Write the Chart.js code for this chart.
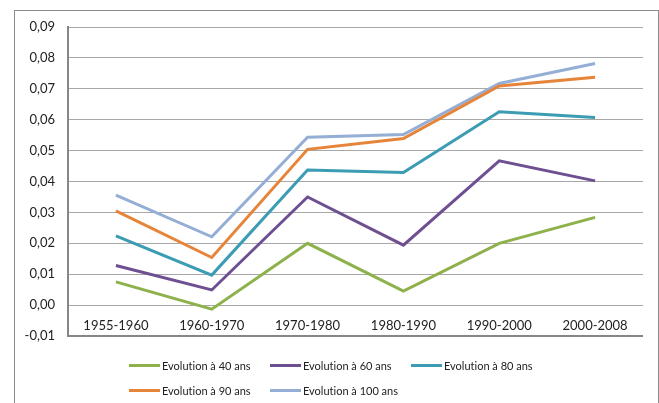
<!DOCTYPE html>
<html>
<head>
<meta charset="utf-8">
<script src="https://cdn.jsdelivr.net/npm/chart.js@4.4.1/dist/chart.umd.min.js"></script>
<style>
  html, body { margin: 0; padding: 0; background: #fff; }
  body { width: 659px; height: 403px; position: relative; overflow: hidden; font-family: Lato, "Noto Sans", sans-serif; }
  #frame { position: absolute; left: 14px; top: 10px; width: 645px; height: 420px; border: 1px solid #8c8c8c; box-sizing: border-box; }
  #wrap { position: absolute; left: 0; top: 0; width: 659px; height: 403px; }
  #legend { position: absolute; left: 129px; top: 357px; display: grid; grid-template-columns: 141px 141px 141px; row-gap: 9px; font-size: 11px; color: #222; font-variant-ligatures: none; font-feature-settings: "liga" 0; }
  .item { display: flex; align-items: center; height: 16px; white-space: nowrap; }
  .swatch { width: 31px; height: 3px; margin-right: 2px; }
</style>
</head>
<body>
<div id="frame"></div>
<div id="wrap"><canvas id="c" width="659" height="403"></canvas></div>
<div id="legend"></div>
<script>
const categories = ['1955-1960', '1960-1970', '1970-1980', '1980-1990', '1990-2000', '2000-2008'];
const seriesNames = ['Evolution à 40 ans', 'Evolution à 60 ans', 'Evolution à 80 ans', 'Evolution à 90 ans', 'Evolution à 100 ans'];
const evol40  = [0.0075, -0.0013, 0.0200, 0.0045, 0.0200, 0.0284];
const evol60  = [0.0128, 0.0049, 0.0350, 0.0194, 0.0467, 0.0402];
const evol80  = [0.0224, 0.0097, 0.0437, 0.0429, 0.0626, 0.0607];
const evol90  = [0.0305, 0.0154, 0.0504, 0.0539, 0.0709, 0.0737];
const evol100 = [0.0356, 0.0221, 0.0543, 0.0552, 0.0717, 0.0782];
const yTicks = [-0.01, 0, 0.01, 0.02, 0.03, 0.04, 0.05, 0.06, 0.07, 0.08, 0.09];
const colors = ['#8db14b', '#6e4f92', '#3b9cb3', '#e6843a', '#94aed6'];

const seriesValues = [evol40, evol60, evol80, evol90, evol100];
const datasets = seriesValues.map((vals, i) => ({
  label: seriesNames[i],
  data: vals,
  borderColor: colors[i],
  backgroundColor: colors[i],
  borderWidth: 3,
  pointRadius: 0,
  tension: 0,
  fill: false
}));

const legend = document.getElementById('legend');
seriesNames.forEach((n, i) => {
  const it = document.createElement('div');
  it.className = 'item';
  const sw = document.createElement('span');
  sw.className = 'swatch';
  sw.style.background = colors[i];
  const tx = document.createElement('span');
  tx.textContent = n;
  it.appendChild(sw); it.appendChild(tx);
  legend.appendChild(it);
});

new Chart(document.getElementById('c'), {
  type: 'line',
  data: { labels: categories, datasets: datasets },
  options: {
    responsive: false,
    animation: false,
    devicePixelRatio: 1,
    layout: { padding: { left: 0, top: 27, right: 16, bottom: 67 } },
    plugins: { legend: { display: false }, tooltip: { enabled: false } },
    scales: {
      x: {
        axis: 'x',
        type: 'category',
        position: { y: 0 },
        offset: true,
        grid: { display: false, drawTicks: false },
        border: { display: false },
        ticks: { color: '#222', font: { family: 'Lato', size: 13 }, padding: 13, maxRotation: 0 }
      },
      y: {
        min: -0.01,
        max: 0.09,
        afterBuildTicks: (scale) => { scale.ticks = yTicks.map(v => ({ value: v })); },
        afterFit: (scale) => { scale.width = 68; },
        grid: {
          drawTicks: false,
          color: (ctx) => (ctx.tick && Math.abs(ctx.tick.value + 0.01) < 1e-9) ? '#868686' : '#a8a8a8',
          lineWidth: (ctx) => (ctx.tick && Math.abs(ctx.tick.value + 0.01) < 1e-9) ? 2 : 1
        },
        border: { display: true, color: '#868686', width: 2 },
        ticks: {
          color: '#222',
          font: { family: 'Lato', size: 13 },
          padding: 13,
          callback: (v) => Number(v).toFixed(2).replace('.', ',')
        }
      }
    }
  }
});
</script>
</body>
</html>
